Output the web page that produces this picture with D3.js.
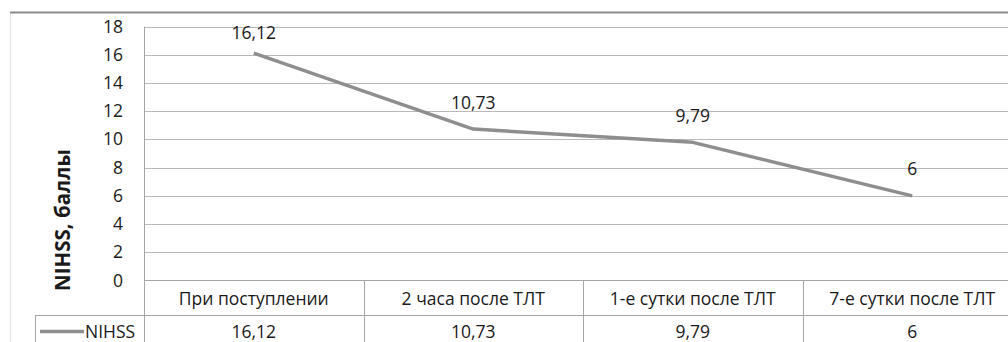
<!DOCTYPE html>
<html>
<head>
<meta charset="utf-8">
<script src="https://cdn.jsdelivr.net/npm/d3@7"></script>
<style>
  html, body { margin: 0; padding: 0; background: #fff; overflow: hidden; }
  svg { display: block; }
  text { font-family: "Open Sans", "Noto Sans", sans-serif; fill: #1a1a1a; }
</style>
</head>
<body>
<svg id="chart" width="1008" height="342"></svg>
<script>
// NIHSS score over time after thrombolysis (ТЛТ)
const categories = ["При поступлении", "2 часа после ТЛТ", "1-е сутки после ТЛТ", "7-е сутки после ТЛТ"];
const nihssValues = [16.12, 10.73, 9.79, 6];
const valueLabels = ["16,12", "10,73", "9,79", "6"];
const yTicks = [0, 2, 4, 6, 8, 10, 12, 14, 16, 18];
const seriesName = "NIHSS";
const yTitle = "NIHSS, баллы";

const svg = d3.select("#chart");

const plotLeft = 144, plotRight = 1022, plotTop = 26.5, plotBottom = 280.5;
const catRowBottom = 315.5, tableBottom = 342, tableLeft = 35;
const fontSize = "17.5px";

const x = d3.scaleBand().domain(categories).range([plotLeft, plotRight]);
const y = d3.scaleLinear().domain([0, 18]).range([plotBottom, plotTop]);

const gridColor = "#b9b9b9";
const borderColor = "#a6a6a6";
const lineColor = "#8e8e8e";

// chart frame: top rule and faint left edge
svg.append("line")
  .attr("x1", 10).attr("x2", 1008).attr("y1", 12.5).attr("y2", 12.5)
  .attr("stroke", "#8a8a8a").attr("stroke-width", 2);
svg.append("line")
  .attr("x1", 10.5).attr("x2", 10.5).attr("y1", 14).attr("y2", 342)
  .attr("stroke", "#e4e4e4").attr("stroke-width", 1);

// horizontal gridlines
svg.append("g").selectAll("line")
  .data(yTicks.filter(t => t > 0))
  .join("line")
  .attr("x1", plotLeft).attr("x2", plotRight)
  .attr("y1", d => Math.round(y(d)) + 0.5).attr("y2", d => Math.round(y(d)) + 0.5)
  .attr("stroke", gridColor).attr("stroke-width", 1);

// y axis tick labels
const yAxis = d3.axisLeft(y).tickValues(yTicks).tickSize(0).tickPadding(21)
  .tickFormat(d3.format("d"));
const yAxisG = svg.append("g").attr("transform", `translate(${plotLeft},0)`).call(yAxis);
yAxisG.select(".domain").remove();
yAxisG.selectAll("text")
  .style("font-family", "\"Open Sans\", sans-serif")
  .style("font-size", fontSize).attr("fill", "#1a1a1a");

// y axis title
svg.append("text")
  .attr("transform", `translate(70,220) rotate(-90)`)
  .attr("text-anchor", "middle")
  .style("font-size", "20.5px").style("font-weight", "bold")
  .text(yTitle);

// data table borders
svg.append("line") // category axis line
  .attr("x1", plotLeft).attr("x2", plotRight)
  .attr("y1", plotBottom).attr("y2", plotBottom)
  .attr("stroke", borderColor);
svg.append("line")
  .attr("x1", tableLeft).attr("x2", plotRight)
  .attr("y1", catRowBottom).attr("y2", catRowBottom)
  .attr("stroke", borderColor);
svg.append("line") // value axis line / first column divider
  .attr("x1", plotLeft + 0.5).attr("x2", plotLeft + 0.5)
  .attr("y1", plotTop).attr("y2", tableBottom)
  .attr("stroke", borderColor);
svg.append("line")
  .attr("x1", tableLeft + 0.5).attr("x2", tableLeft + 0.5)
  .attr("y1", catRowBottom).attr("y2", tableBottom)
  .attr("stroke", borderColor);
svg.append("g").selectAll("line")
  .data(categories.slice(1))
  .join("line")
  .attr("x1", d => Math.round(x(d)) + 0.5).attr("x2", d => Math.round(x(d)) + 0.5)
  .attr("y1", plotBottom).attr("y2", tableBottom)
  .attr("stroke", borderColor);

// category labels
svg.append("g").selectAll("text")
  .data(categories)
  .join("text")
  .attr("x", d => x(d) + x.bandwidth() / 2)
  .attr("y", 304.5)
  .attr("text-anchor", "middle")
  .style("font-size", fontSize)
  .text(d => d);

// table values row
svg.append("g").selectAll("text")
  .data(valueLabels)
  .join("text")
  .attr("x", (d, i) => x(categories[i]) + x.bandwidth() / 2)
  .attr("y", 338)
  .attr("text-anchor", "middle")
  .style("font-size", fontSize)
  .text(d => d);

// legend key in table
svg.append("line")
  .attr("x1", 40).attr("x2", 84).attr("y1", 331.5).attr("y2", 331.5)
  .attr("stroke", lineColor).attr("stroke-width", 3.5);
svg.append("text")
  .attr("x", 85).attr("y", 338)
  .style("font-size", fontSize)
  .text(seriesName);

// series line
const pts = categories.map((c, i) => [x(c) + x.bandwidth() / 2, y(nihssValues[i])]);
svg.append("path")
  .attr("d", d3.line()(pts))
  .attr("fill", "none")
  .attr("stroke", lineColor)
  .attr("stroke-width", 3.5)
  .attr("stroke-linejoin", "round");

// data labels above points, kept inside the plot area
svg.append("g").selectAll("text")
  .data(valueLabels)
  .join("text")
  .attr("x", (d, i) => pts[i][0])
  .attr("y", (d, i) => Math.max(pts[i][1] - 20.5, plotTop + 12))
  .attr("text-anchor", "middle")
  .style("font-size", fontSize)
  .text(d => d);
</script>
</body>
</html>
